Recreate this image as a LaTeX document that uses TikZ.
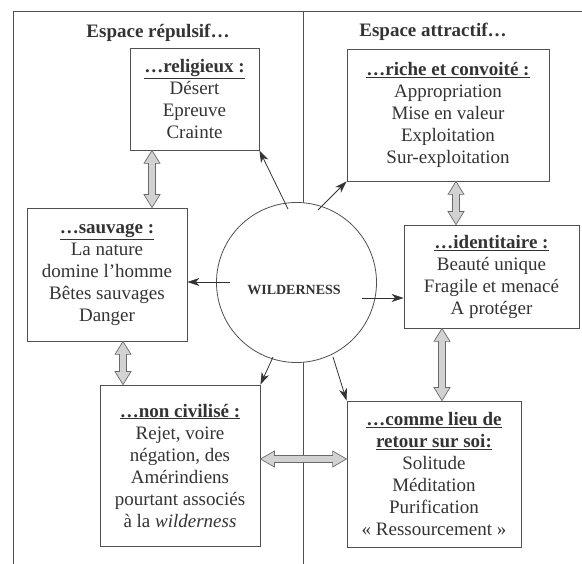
\documentclass[tikz,border=0pt]{standalone}
\usepackage{fontspec}
\setmainfont{Liberation Serif}
\usetikzlibrary{arrows.meta,calc}
\definecolor{ink}{HTML}{333333}
\definecolor{linec}{HTML}{505050}
\definecolor{fatfill}{HTML}{D2D2D2}
\definecolor{fatline}{HTML}{6A6A6A}
\tikzset{
  boxn/.style={draw=linec, line width=0.8pt, align=center, text=ink,
    font=\fontsize{19}{22}\selectfont, inner sep=0pt},
  hdr/.style={text=ink, font=\fontsize{19}{22}\selectfont\bfseries},
  thinarr/.style={draw=ink, line width=0.8pt, -{Stealth[length=12pt,width=8pt,inset=3.5pt]}},
  fatarr/.style={draw=fatline, fill=fatfill, line width=0.7pt, line join=miter},
  frame/.style={draw=linec, line width=0.8pt}
}
\newcommand\ttl[1]{\textbf{\underline{#1}}}
\newcommand\fatvert[2]{%
  \draw[fatarr] let \p1=(#1), \p2=(#2) in
   (\x1,\y1) -- ({\x1+8pt},{\y1-13pt}) -- ({\x1+3.5pt},{\y1-13pt}) -- ({\x2+3.5pt},{\y2+13pt})
   -- ({\x2+8pt},{\y2+13pt}) -- (\x2,\y2) -- ({\x2-8pt},{\y2+13pt}) -- ({\x2-3.5pt},{\y2+13pt})
   -- ({\x1-3.5pt},{\y1-13pt}) -- ({\x1-8pt},{\y1-13pt}) -- cycle;}
\newcommand\fathoriz[2]{%
  \draw[fatarr] let \p1=(#1), \p2=(#2) in
   (\x1,\y1) -- ({\x1+14pt},{\y1+8pt}) -- ({\x1+14pt},{\y1+3.5pt}) -- ({\x2-14pt},{\y2+3.5pt})
   -- ({\x2-14pt},{\y2+8pt}) -- (\x2,\y2) -- ({\x2-14pt},{\y2-8pt}) -- ({\x2-14pt},{\y2-3.5pt})
   -- ({\x1+14pt},{\y1-3.5pt}) -- ({\x1+14pt},{\y1-8pt}) -- cycle;}
\begin{document}
\begin{tikzpicture}[x=1pt,y=-1pt]
\useasboundingbox (0,0) rectangle (582,564);
% frame and divider
\coordinate (fbl) at (13,564);
\coordinate (ftl) at (13,11);
\coordinate (ftr) at (582,11);
\coordinate (dtop) at (303,11);
\coordinate (dbot) at (303,564);
\draw[frame] (fbl) -- (ftl) -- (ftr);
\draw[frame] (dtop) -- (dbot);
% headers
\node[hdr] (h1) at (158,33) {Espace répulsif…};
\node[hdr] (h2) at (433,32) {Espace attractif…};
% boxes
\node[boxn, minimum width=129pt, minimum height=102pt] (rel) at (194.5,99)
  {\ttl{…religieux :}\\Désert\\Epreuve\\Crainte};
\node[boxn, minimum width=202pt, minimum height=132pt] (ric) at (448,115)
  {\ttl{…riche et convoité :}\\Appropriation\\Mise en valeur\\Exploitation\\Sur-exploitation};
\node[boxn, minimum width=160pt, minimum height=133pt] (sau) at (107,274.5)
  {\ttl{…sauvage :}\\La nature\\domine l’homme\\Bêtes sauvages\\Danger};
\node[boxn, minimum width=175pt, minimum height=103pt] (ide) at (491.5,276.5)
  {\ttl{…identitaire :}\\Beauté unique\\Fragile et menacé\\A protéger};
\node[boxn, minimum width=160pt, minimum height=161pt] (nci) at (180,465.5)
  {\ttl{…non civilisé :}\\Rejet, voire\\négation, des\\Amérindiens\\pourtant associés\\à la \textit{wilderness}};
\node[boxn, minimum width=174pt, minimum height=146pt] (com) at (434,474)
  {\ttl{…comme lieu de}\\\ttl{retour sur soi:}\\Solitude\\Méditation\\Purification\\«~Ressourcement~»};
% circle
\node[circle, draw=linec, line width=0.8pt, fill=white, minimum size=160pt, inner sep=0pt] (w) at (296.5,282.5) {};
\node[text=ink, font=\fontsize{14}{16}\selectfont\bfseries] (wl) at (294,290) {WILDERNESS};
% thin arrows
\coordinate (a1) at (288,209);
\coordinate (a2) at (318,210);
\coordinate (a3) at (230,282);
\coordinate (a4) at (362,298);
\coordinate (a5) at (273,357);
\coordinate (a6) at (333,357);
\draw[thinarr] (a1) -- (rel.south east);
\draw[thinarr] (a2) -- (ric.south west);
\draw[thinarr] (a3) -- (a3 -| sau.east);
\draw[thinarr] (a4) -- (a4 -| ide.west);
\draw[thinarr] (a5) -- (nci.north east);
\draw[thinarr] (a6) -- (com.north west);
% fat double arrows
\coordinate (x1) at (152,0);
\coordinate (x2) at (456,0);
\coordinate (x3) at (123,0);
\coordinate (x4) at (442,0);
\coordinate (y5) at (0,459);
\fatvert{rel.south -| x1}{sau.north -| x1}
\fatvert{ric.south -| x2}{ide.north -| x2}
\fatvert{sau.south -| x3}{nci.north -| x3}
\fatvert{ide.south -| x4}{com.north -| x4}
\fathoriz{nci.east |- y5}{com.west |- y5}
\end{tikzpicture}
\end{document}
